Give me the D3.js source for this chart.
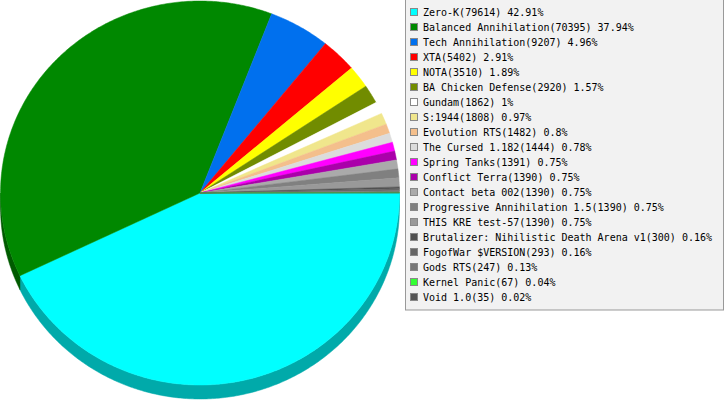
<!DOCTYPE html>
<html>
<head>
<meta charset="utf-8">
<script src="https://cdn.jsdelivr.net/npm/d3@7"></script>
<style>
html,body{margin:0;padding:0;background:#fff;}
svg{display:block;}
</style>
</head>
<body>
<svg id="chart" width="725" height="400"></svg>
<script>
const categories = ["Zero-K","Balanced Annihilation","Tech Annihilation","XTA","NOTA","BA Chicken Defense","Gundam","S:1944","Evolution RTS","The Cursed 1.182","Spring Tanks","Conflict Terra","Contact beta 002","Progressive Annihilation 1.5","THIS KRE test-57","Brutalizer: Nihilistic Death Arena v1","FogofWar $VERSION","Gods RTS","Kernel Panic","Void 1.0"];
const values = [79614,70395,9207,5402,3510,2920,1862,1808,1482,1444,1391,1390,1390,1390,1390,300,293,247,67,35];
const colors = ["#00ffff","#008800","#0070ee","#ff0000","#ffff00","#718c00","#ffffff","#f0e68c","#f4bf8c","#dcdcdc","#ff00ff","#aa00aa","#aaaaaa","#808080","#999999","#505050","#666666","#777777","#33ff33","#555555"];

const svg = d3.select("#chart");
const cx = 200, cy = 193, rx = 199.5, ry = 192, depth = 14;
const total = d3.sum(values);

// angles in radians, clockwise (screen) from 3 o'clock
const pie = d3.pie().sort(null).value(d => d.v).startAngle(0).endAngle(2 * Math.PI);
const data = categories.map((c, i) => ({c, v: values[i], col: colors[i]}));
const arcs = pie(data).map(a => ({...a, a0: a.startAngle, a1: a.endAngle}));

function pt(t, dy) { return [cx + rx * Math.cos(t), cy + dy + ry * Math.sin(t)]; }
function ellArc(t0, t1, dy) {
  const p = [];
  const n = Math.max(2, Math.ceil(Math.abs(t1 - t0) / 0.01));
  for (let k = 0; k <= n; k++) p.push(pt(t0 + (t1 - t0) * k / n, dy));
  return p;
}
const line = d3.line();

// sides (visible for angles in [0, PI])
const gSide = svg.append("g");
arcs.forEach(a => {
  const s = Math.max(a.a0, 0), e = Math.min(a.a1, Math.PI);
  if (e <= s) return;
  const top = ellArc(s, e, 0);
  const bot = ellArc(e, s, depth);
  const c = d3.rgb(a.data.col);
  const dk = d3.rgb(c.r * 2 / 3, c.g * 2 / 3, c.b * 2 / 3);
  gSide.append("path")
    .attr("d", line(top.concat(bot)) + "Z")
    .attr("fill", dk)
    .attr("stroke", dk)
    .attr("stroke-width", 0.5);
});

// tops
const gTop = svg.append("g");
arcs.forEach(a => {
  const p = [[cx, cy]].concat(ellArc(a.a0, a.a1, 0));
  gTop.append("path")
    .attr("d", line(p) + "Z")
    .attr("fill", a.data.col)
    .attr("stroke", a.data.col)
    .attr("stroke-width", 0.5);
});

// legend
const lg = svg.append("g");
lg.append("rect").attr("x", 405.5).attr("y", -1.5).attr("width", 318).attr("height", 311.5)
  .attr("fill", "#f2f2f2").attr("stroke", "#999");
const rowY = d3.scaleLinear().domain([0, 1]).range([16, 31]);
data.forEach((d, i) => {
  const by = rowY(i);
  lg.append("rect").attr("x", 410.5).attr("y", by - 7.5).attr("width", 7).attr("height", 7)
    .attr("fill", d.col).attr("stroke", "#888");
  const pct = +(d.v / total * 100).toFixed(2);
  lg.append("text").attr("x", 423).attr("y", by)
    .attr("font-family", "DejaVu Sans Mono, monospace").attr("font-size", "10px")
    .attr("fill", "#000")
    .text(`${d.c}(${d.v}) ${pct}%`);
});
</script>
</body>
</html>
